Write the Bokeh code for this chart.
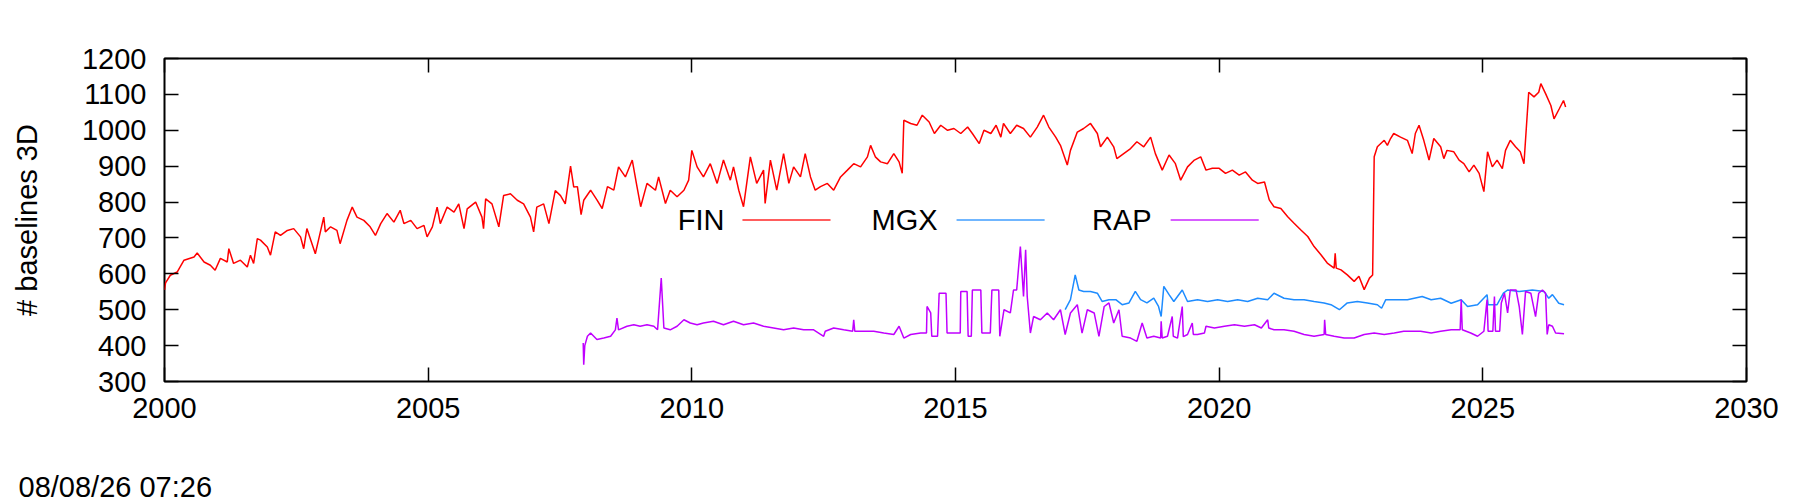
from bokeh.plotting import figure
from bokeh.models import FixedTicker, LinearAxis, Range1d, Label, BoxAnnotation, CustomJSTickFormatter, Title
from bokeh.embed import file_html
from bokeh.resources import INLINE

# ---------------- data ----------------
fin_year = [2000.00, 2000.02, 2000.11, 2000.24, 2000.37, 2000.56, 2000.62, 2000.75, 2000.87, 2000.96,
            2001.06, 2001.19, 2001.22, 2001.31, 2001.44, 2001.57, 2001.63, 2001.69, 2001.76, 2001.82,
            2001.95, 2002.01, 2002.10, 2002.20, 2002.33, 2002.45, 2002.58, 2002.64, 2002.70, 2002.86,
            2002.92, 2003.02, 2003.05, 2003.15, 2003.27, 2003.33, 2003.46, 2003.56, 2003.65, 2003.78,
            2003.90, 2004.00, 2004.10, 2004.22, 2004.35, 2004.47, 2004.54, 2004.67, 2004.79, 2004.92,
            2004.98, 2005.08, 2005.17, 2005.23, 2005.36, 2005.49, 2005.58, 2005.68, 2005.74, 2005.90,
            2006.02, 2006.05, 2006.09, 2006.21, 2006.34, 2006.43, 2006.56, 2006.69, 2006.81, 2006.94,
            2007.00, 2007.06, 2007.19, 2007.29, 2007.41, 2007.51, 2007.60, 2007.70, 2007.76, 2007.83,
            2007.90, 2007.95, 2008.08, 2008.20, 2008.30, 2008.40, 2008.52, 2008.61, 2008.74, 2008.87,
            2008.96, 2009.03, 2009.15, 2009.31, 2009.37, 2009.50, 2009.59, 2009.72, 2009.85, 2009.94,
            2010.00, 2010.10, 2010.22, 2010.35, 2010.48, 2010.60, 2010.73, 2010.79, 2010.89, 2010.98,
            2011.11, 2011.23, 2011.36, 2011.39, 2011.49, 2011.61, 2011.74, 2011.84, 2011.93, 2012.06,
            2012.15, 2012.25, 2012.34, 2012.44, 2012.57, 2012.69, 2012.82, 2012.95, 2013.07, 2013.20,
            2013.33, 2013.39, 2013.48, 2013.58, 2013.71, 2013.83, 2013.93, 2013.99, 2014.02, 2014.15,
            2014.27, 2014.37, 2014.50, 2014.60, 2014.72, 2014.85, 2014.97, 2015.10, 2015.23, 2015.32,
            2015.45, 2015.54, 2015.67, 2015.77, 2015.86, 2015.91, 2016.04, 2016.16, 2016.29, 2016.42,
            2016.55, 2016.67, 2016.77, 2016.90, 2016.99, 2017.12, 2017.18, 2017.31, 2017.43, 2017.56,
            2017.69, 2017.75, 2017.88, 2018.00, 2018.06, 2018.19, 2018.32, 2018.44, 2018.57, 2018.70,
            2018.79, 2018.92, 2019.05, 2019.17, 2019.27, 2019.40, 2019.53, 2019.65, 2019.75, 2019.87,
            2020.00, 2020.12, 2020.25, 2020.38, 2020.50, 2020.63, 2020.73, 2020.86, 2020.95, 2021.04,
            2021.17, 2021.30, 2021.42, 2021.55, 2021.68, 2021.80, 2021.93, 2022.05, 2022.18, 2022.20,
            2022.22, 2022.31, 2022.43, 2022.56, 2022.65, 2022.75, 2022.85, 2022.91, 2022.94, 2023.00,
            2023.13, 2023.19, 2023.25, 2023.31, 2023.44, 2023.57, 2023.66, 2023.72, 2023.79, 2023.88,
            2023.98, 2024.07, 2024.20, 2024.26, 2024.32, 2024.45, 2024.55, 2024.64, 2024.74, 2024.83,
            2024.93, 2025.02, 2025.09, 2025.18, 2025.27, 2025.37, 2025.43, 2025.52, 2025.62, 2025.71,
            2025.78, 2025.83, 2025.87, 2025.97, 2026.06, 2026.10, 2026.19, 2026.29, 2026.35, 2026.45,
            2026.53, 2026.57]
fin_val = [555, 575, 596, 605, 638, 647, 658, 633, 624, 610,
           643, 633, 670, 629, 638, 619, 652, 629, 698, 694,
           675, 652, 717, 707, 721, 726, 703, 670, 726, 656,
           694, 758, 717, 731, 721, 684, 749, 786, 758, 749,
           731, 707, 740, 768, 744, 777, 740, 749, 726, 735,
           703, 731, 786, 740, 786, 772, 795, 726, 781, 800,
           758, 726, 809, 795, 731, 818, 823, 805, 795, 758,
           717, 786, 795, 740, 832, 818, 795, 900, 842, 843,
           765, 805, 833, 806, 782, 843, 833, 898, 870, 917,
           843, 787, 852, 833, 870, 796, 833, 815, 833, 861,
           944, 898, 870, 907, 852, 917, 861, 898, 833, 787,
           926, 852, 889, 796, 917, 833, 935, 852, 898, 870,
           935, 870, 833, 843, 852, 833, 870, 889, 907, 898,
           926, 958, 926, 912, 907, 935, 912, 880, 1028, 1019,
           1014, 1042, 1023, 991, 1014, 1000, 1005, 991, 1009, 991,
           963, 1000, 991, 1014, 981, 1019, 991, 1014, 1005, 981,
           1009, 1042, 1009, 981, 958, 903, 944, 995, 1005, 1019,
           991, 954, 981, 954, 921, 935, 949, 968, 954, 981,
           935, 889, 931, 907, 861, 898, 917, 926, 889, 894,
           894, 880, 889, 875, 884, 861, 852, 856, 806, 787,
           782, 759, 741, 722, 704, 676, 653, 630, 616, 657,
           616, 611, 597, 579, 593, 556, 588, 597, 926, 954,
           972, 958, 977, 991, 981, 972, 935, 991, 1014, 972,
           917, 977, 954, 921, 944, 940, 917, 907, 884, 903,
           880, 829, 940, 898, 917, 893, 944, 972, 954, 940,
           907, 1018, 1106, 1093, 1106, 1130, 1102, 1069, 1032, 1060,
           1083, 1065]

mgx_year = [2017.08, 2017.18, 2017.27, 2017.34, 2017.43, 2017.56, 2017.69, 2017.78, 2017.91, 2018.04,
            2018.16, 2018.29, 2018.41, 2018.51, 2018.63, 2018.76, 2018.85, 2018.90, 2018.95, 2019.05,
            2019.14, 2019.30, 2019.40, 2019.59, 2019.78, 2019.97, 2020.16, 2020.35, 2020.54, 2020.73,
            2020.92, 2021.04, 2021.23, 2021.42, 2021.61, 2021.80, 2021.99, 2022.12, 2022.28, 2022.43,
            2022.62, 2022.81, 2023.00, 2023.08, 2023.16, 2023.38, 2023.57, 2023.85, 2024.02, 2024.20,
            2024.40, 2024.59, 2024.71, 2024.90, 2025.08, 2025.10, 2025.27, 2025.39, 2025.47, 2025.69,
            2025.94, 2026.16, 2026.25, 2026.32, 2026.44, 2026.54]
mgx_val = [500, 528, 597, 555, 551, 551, 546, 523, 528, 528,
           514, 519, 551, 528, 519, 532, 509, 481, 565, 542,
           523, 555, 523, 528, 523, 528, 523, 528, 523, 532,
           528, 546, 532, 528, 528, 523, 519, 514, 500, 519,
           523, 519, 514, 504, 528, 528, 528, 537, 528, 532,
           518, 528, 509, 514, 542, 514, 514, 546, 555, 551,
           555, 551, 532, 542, 518, 514]

rap_year = [2007.94, 2007.95, 2007.97, 2008.02, 2008.08, 2008.20, 2008.33, 2008.46, 2008.55, 2008.58,
            2008.61, 2008.77, 2008.90, 2009.02, 2009.15, 2009.28, 2009.35, 2009.42, 2009.47, 2009.59,
            2009.72, 2009.85, 2009.97, 2010.10, 2010.22, 2010.41, 2010.60, 2010.79, 2010.98, 2011.17,
            2011.36, 2011.55, 2011.74, 2011.93, 2012.12, 2012.31, 2012.50, 2012.53, 2012.69, 2012.88,
            2013.05, 2013.07, 2013.09, 2013.26, 2013.45, 2013.64, 2013.83, 2013.93, 2014.02, 2014.15,
            2014.34, 2014.45, 2014.46, 2014.53, 2014.55, 2014.66, 2014.69, 2014.82, 2014.84, 2014.96,
            2015.09, 2015.10, 2015.22, 2015.24, 2015.30, 2015.32, 2015.48, 2015.50, 2015.66, 2015.69,
            2015.82, 2015.84, 2015.92, 2016.04, 2016.10, 2016.16, 2016.23, 2016.29, 2016.33, 2016.36,
            2016.42, 2016.48, 2016.61, 2016.74, 2016.86, 2016.99, 2017.08, 2017.18, 2017.31, 2017.40,
            2017.50, 2017.63, 2017.72, 2017.82, 2017.91, 2018.00, 2018.10, 2018.16, 2018.32, 2018.44,
            2018.54, 2018.63, 2018.76, 2018.89, 2018.90, 2018.92, 2019.02, 2019.11, 2019.13, 2019.21,
            2019.30, 2019.32, 2019.40, 2019.49, 2019.51, 2019.59, 2019.72, 2019.75, 2019.91, 2020.10,
            2020.29, 2020.48, 2020.67, 2020.80, 2020.92, 2020.94, 2021.04, 2021.23, 2021.42, 2021.61,
            2021.80, 2021.99, 2022.00, 2022.02, 2022.18, 2022.37, 2022.56, 2022.75, 2022.94, 2023.13,
            2023.32, 2023.50, 2023.69, 2023.82, 2024.02, 2024.20, 2024.40, 2024.57, 2024.59, 2024.61,
            2024.77, 2024.90, 2025.02, 2025.08, 2025.10, 2025.19, 2025.22, 2025.24, 2025.32, 2025.35,
            2025.41, 2025.47, 2025.52, 2025.63, 2025.69, 2025.75, 2025.81, 2025.91, 2026.00, 2026.06,
            2026.13, 2026.19, 2026.22, 2026.25, 2026.32, 2026.38, 2026.54]
rap_val = [407, 347, 400, 426, 435, 417, 421, 426, 444, 477,
           444, 454, 458, 454, 458, 454, 444, 588, 449, 444,
           454, 472, 463, 458, 463, 468, 458, 468, 458, 463,
           454, 449, 444, 449, 444, 444, 426, 440, 449, 444,
           440, 472, 440, 440, 440, 435, 431, 454, 421, 431,
           435, 435, 509, 491, 426, 426, 546, 546, 435, 435,
           435, 551, 551, 426, 426, 555, 555, 435, 435, 555,
           555, 426, 500, 491, 555, 555, 676, 537, 667, 537,
           435, 481, 472, 491, 472, 500, 431, 491, 514, 435,
           500, 491, 426, 509, 519, 463, 500, 426, 421, 412,
           463, 421, 426, 421, 468, 421, 426, 481, 426, 421,
           509, 425, 431, 463, 431, 431, 435, 454, 449, 454,
           458, 454, 458, 449, 472, 449, 444, 444, 440, 431,
           426, 431, 472, 431, 426, 421, 421, 431, 435, 431,
           435, 440, 440, 440, 435, 440, 444, 444, 528, 444,
           435, 426, 440, 528, 440, 440, 537, 440, 440, 519,
           546, 491, 555, 555, 509, 431, 551, 546, 481, 546,
           555, 546, 431, 458, 454, 435, 433]

series_names = ["FIN", "MGX", "RAP"]
series_colors = ["#ff0000", "#1e8cff", "#c000ff"]
x_ticks = [2000, 2005, 2010, 2015, 2020, 2025, 2030]
y_ticks = [300, 400, 500, 600, 700, 800, 900, 1000, 1100, 1200]
y_title = "# baselines 3D"
timestamp = "08/08/26 07:26"

FONT = "Liberation Sans"
FS = "29px"

p = figure(width=1800, height=502,
           x_range=Range1d(2000, 2030), y_range=Range1d(300, 1200),
           output_backend="svg", toolbar_location=None,
           min_border_left=164, min_border_right=54, min_border_top=58, min_border_bottom=120)
p.xgrid.visible = False
p.ygrid.visible = False
p.outline_line_color = "black"
p.outline_line_width = 2
p.outline_line_alpha = 1
p.background_fill_color = "white"
p.border_fill_color = "white"

p.add_layout(LinearAxis(), "right")
p.add_layout(LinearAxis(), "above")


def style(ax, ticks, labels):
    ax.ticker = FixedTicker(ticks=ticks)
    ax.axis_line_color = None
    ax.major_tick_in = 14
    ax.major_tick_out = 0
    ax.major_tick_line_color = "black"
    ax.major_tick_line_width = 1.5
    ax.minor_tick_line_color = None
    ax.major_label_text_font = FONT
    ax.major_label_text_font_size = FS
    ax.major_label_text_color = "black"
    if not labels:
        ax.formatter = CustomJSTickFormatter(code="return ''")
        ax.major_label_standoff = 0


style(p.below[0], x_ticks, True)
style(p.above[0], x_ticks, False)
style(p.left[0], y_ticks, True)
style(p.right[0], y_ticks, False)
p.below[0].major_label_standoff = 16
p.left[0].major_label_standoff = 18

ya = p.left[0]
ya.axis_label = y_title
ya.axis_label_text_font = FONT
ya.axis_label_text_font_size = FS
ya.axis_label_text_font_style = "normal"
ya.axis_label_text_color = "black"
ya.axis_label_standoff = 36

for xs, ys, c in zip([fin_year, mgx_year, rap_year], [fin_val, mgx_val, rap_val], series_colors):
    p.line(xs, ys, line_color=c, line_width=1.5)

# key (gnuplot style: text then sample), horizontal, in data coordinates
key_text_x = [2010.62, 2014.66, 2018.72]
key_line_x0 = [2010.96, 2015.02, 2019.08]
key_line_x1 = [2012.63, 2016.69, 2020.75]
key_y = 750
for name, c, tx, l0, l1 in zip(series_names, series_colors, key_text_x, key_line_x0, key_line_x1):
    p.add_layout(Label(x=tx, y=key_y, text=name, text_align="right", text_baseline="middle",
                       text_font=FONT, text_font_size=FS, text_color="black"))
    p.add_layout(BoxAnnotation(left=l0, right=l1, bottom=key_y - 2, top=key_y + 2,
                               fill_color=c, fill_alpha=0.85, line_color=None))

# blank spacer between the x axis and the time stamp, then the time stamp itself
p.add_layout(Title(text=" ", align="left", standoff=14,
                   text_font=FONT, text_font_size=FS, text_font_style="normal"), "below")
p.add_layout(Title(text=timestamp, align="left", offset=-146, standoff=0,
                   text_font=FONT, text_font_size=FS, text_font_style="normal",
                   text_color="black"), "below")

open("out.html", "w").write(file_html(p, INLINE))
